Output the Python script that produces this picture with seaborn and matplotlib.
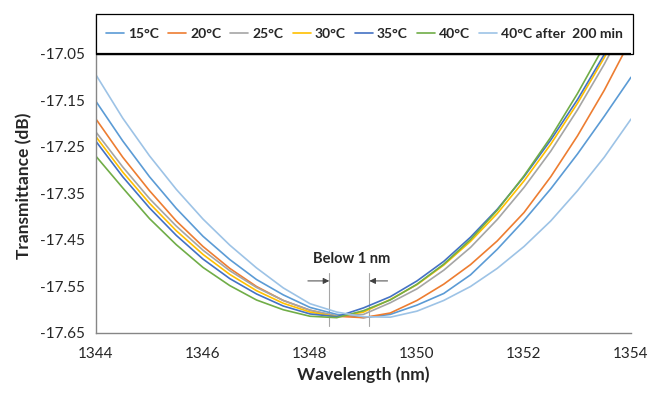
import matplotlib
matplotlib.use("Agg")
import matplotlib.pyplot as plt
from matplotlib.patches import Rectangle
import pandas as pd
import seaborn as sns

# ---------------- data ----------------
wavelength = [1344.0, 1344.5, 1345.0, 1345.5, 1346.0, 1346.5, 1347.0, 1347.5, 1348.0, 1348.5,
              1349.0, 1349.5, 1350.0, 1350.5, 1351.0, 1351.5, 1352.0, 1352.5, 1353.0, 1353.5, 1354.0]

t15 = [-17.152, -17.237, -17.314, -17.382, -17.442, -17.492, -17.535, -17.568, -17.595, -17.610,
       -17.617, -17.610, -17.590, -17.565, -17.525, -17.470, -17.408, -17.340, -17.265, -17.184, -17.100]
t20 = [-17.190, -17.272, -17.344, -17.409, -17.464, -17.511, -17.550, -17.580, -17.601, -17.614,
       -17.617, -17.607, -17.580, -17.545, -17.503, -17.452, -17.391, -17.314, -17.226, -17.128, -17.018]
t25 = [-17.218, -17.293, -17.361, -17.420, -17.472, -17.516, -17.552, -17.580, -17.601, -17.613,
       -17.610, -17.585, -17.555, -17.515, -17.466, -17.406, -17.337, -17.259, -17.170, -17.072, -16.964]
t30 = [-17.228, -17.304, -17.371, -17.430, -17.481, -17.524, -17.559, -17.586, -17.605, -17.615,
       -17.605, -17.578, -17.546, -17.504, -17.453, -17.393, -17.323, -17.244, -17.156, -17.058, -16.950]
t35 = [-17.238, -17.314, -17.381, -17.440, -17.491, -17.533, -17.566, -17.592, -17.609, -17.615,
       -17.596, -17.572, -17.538, -17.496, -17.444, -17.384, -17.314, -17.235, -17.148, -17.051, -16.945]
t40 = [-17.270, -17.338, -17.404, -17.460, -17.509, -17.548, -17.579, -17.600, -17.614, -17.617,
       -17.602, -17.579, -17.545, -17.502, -17.449, -17.386, -17.312, -17.229, -17.135, -17.032, -16.918]
t40_200 = [-17.095, -17.188, -17.269, -17.341, -17.405, -17.461, -17.510, -17.553, -17.587, -17.605,
           -17.615, -17.616, -17.603, -17.580, -17.550, -17.511, -17.464, -17.409, -17.344, -17.272, -17.190]

series_labels = ["15°C", "20°C", "25°C", "30°C", "35°C", "40°C", "40°C after  200 min"]
series_values = [t15, t20, t25, t30, t35, t40, t40_200]
series_colors = ["#5B9BD5", "#ED7D31", "#A5A5A5", "#FFC000", "#4472C4", "#70AD47", "#9DC3E6"]

xticks = [1344, 1346, 1348, 1350, 1352, 1354]
xtick_labels = ["1344", "1346", "1348", "1350", "1352", "1354"]
yticks = [-17.65, -17.55, -17.45, -17.35, -17.25, -17.15, -17.05]
ytick_labels = ["-17.65", "-17.55", "-17.45", "-17.35", "-17.25", "-17.15", "-17.05"]

# ---------------- build long table ----------------
rows = []
for lab, vals in zip(series_labels, series_values):
    for w, v in zip(wavelength, vals):
        rows.append({"Wavelength": w, "T": v, "Series": lab})
df = pd.DataFrame(rows)

sns.set_style("white")
plt.rcParams["font.family"] = ["Lato", "DejaVu Sans"]
plt.rcParams["axes.unicode_minus"] = False

fig = plt.figure(figsize=(6.51, 3.93), dpi=100)
ax = fig.add_axes([96 / 651, 60 / 393, 535 / 651, 319 / 393])

sns.lineplot(data=df, x="Wavelength", y="T", hue="Series", hue_order=series_labels,
             palette=dict(zip(series_labels, series_colors)), linewidth=1.2,
             sort=False, legend=False, ax=ax)

y_top = -16.964
ax.set_xlim(1344, 1354)
ax.set_ylim(-17.65, y_top)
ax.set_xticks(xticks)
ax.set_xticklabels(xtick_labels)
ax.set_yticks(yticks)
ax.set_yticklabels(ytick_labels)

spine_col = "#868686"
for s in ["top", "right"]:
    ax.spines[s].set_visible(False)
for s in ["left", "bottom"]:
    ax.spines[s].set_color(spine_col)
    ax.spines[s].set_linewidth(1.0)
ax.tick_params(axis="both", direction="out", length=5, width=1.0, color=spine_col,
               labelsize=11, labelcolor="#262626")
ax.tick_params(axis="y", pad=3)
ax.tick_params(axis="x", pad=5)

ax.set_xlabel("Wavelength (nm)", fontsize=12.5, fontweight="bold", color="#262626", labelpad=4)
ax.set_ylabel("Transmittance (dB)", fontsize=12.5, fontweight="bold", color="#262626")
ax.yaxis.set_label_coords(-0.12, 0.46)

# legend box on top of the plot area
y0 = (-17.05 - (-17.65)) / (y_top - (-17.65))
rect = Rectangle((0, y0), 1.004, 1 - y0, transform=ax.transAxes, facecolor="white",
                 edgecolor="black", linewidth=0.9, zorder=5, clip_on=False)
ax.add_patch(rect)
ax.axhline(-17.05, color="black", linewidth=1.6, zorder=6)

handles = ax.get_lines()[:len(series_labels)]
leg = ax.legend(handles, series_labels, loc="center", bbox_to_anchor=(0.502, (1 + y0) / 2),
                ncol=7, frameon=False, handlelength=1.3, handletextpad=0.3,
                columnspacing=0.65, prop={"weight": "bold", "size": 10})
leg.set_zorder(7)
for t in leg.get_texts():
    t.set_color("#262626")

# "Below 1 nm" annotation
for xv in [1348.36, 1349.11]:
    ax.plot([xv, xv], [-17.52, -17.636], color="#A6A6A6", linewidth=0.8, zorder=1)
ax.annotate("", xy=(1348.36, -17.538), xytext=(1347.96, -17.538),
            arrowprops=dict(arrowstyle="-|>", color="#404040", lw=0.7, mutation_scale=9,
                            shrinkA=0, shrinkB=0))
ax.annotate("", xy=(1349.11, -17.538), xytext=(1349.45, -17.538),
            arrowprops=dict(arrowstyle="-|>", color="#404040", lw=0.7, mutation_scale=9,
                            shrinkA=0, shrinkB=0))
ax.text(1348.78, -17.4915, "Below 1 nm", ha="center", va="center", fontsize=10.5,
        fontweight="bold", color="#262626")

fig.savefig("out.png", dpi=100)
